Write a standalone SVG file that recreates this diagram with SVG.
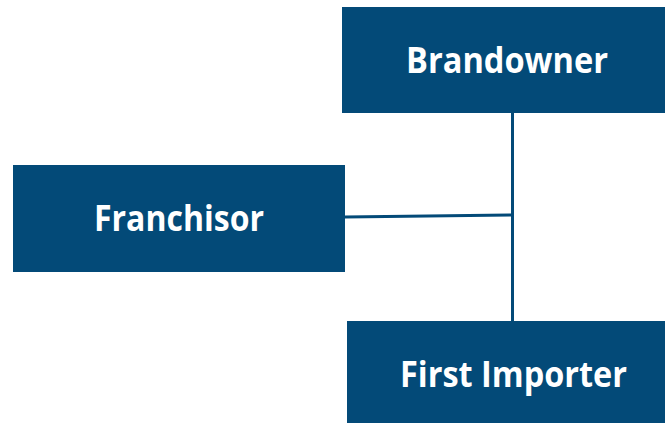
<svg xmlns="http://www.w3.org/2000/svg" width="665" height="423" viewBox="0 0 665 423">
  <style>
    .box { fill: #034a78; }
    .label { fill: #ffffff; font-family: "Open Sans", "Noto Sans", "Liberation Sans", sans-serif; font-weight: bold; font-size: 36px; text-anchor: middle; }
    .link { stroke: #034a78; stroke-width: 3; fill: none; }
  </style>
  <rect width="665" height="423" fill="#ffffff"/>
  <g id="connectors">
    <line class="link" x1="512.5" y1="113" x2="512.5" y2="321"/>
    <line class="link" x1="345" y1="217" x2="512.5" y2="215"/>
  </g>
  <g id="brandowner">
    <rect class="box" x="342" y="7" width="323" height="106"/>
    <text class="label" x="507" y="73" textLength="202" lengthAdjust="spacingAndGlyphs">Brandowner</text>
  </g>
  <g id="franchisor">
    <rect class="box" x="13" y="165" width="332" height="107"/>
    <text class="label" x="179" y="231" textLength="170" lengthAdjust="spacingAndGlyphs">Franchisor</text>
  </g>
  <g id="first-importer">
    <rect class="box" x="347" y="321" width="318" height="102"/>
    <text class="label" x="513.5" y="387" textLength="227" lengthAdjust="spacingAndGlyphs">First Importer</text>
  </g>
</svg>
